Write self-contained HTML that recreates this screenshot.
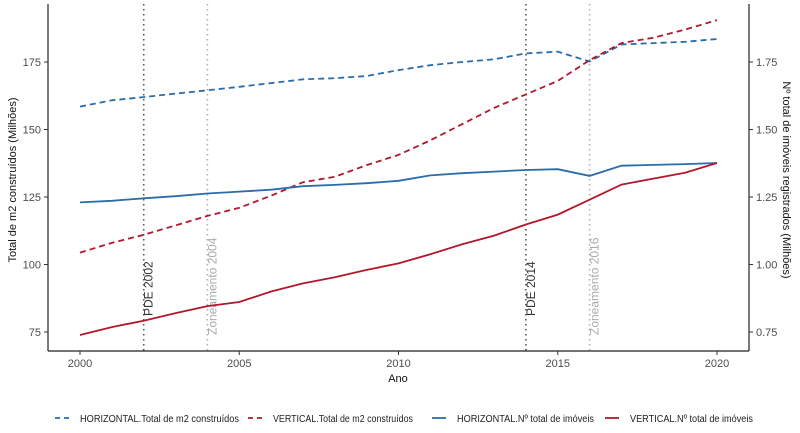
<!DOCTYPE html>
<html><head><meta charset="utf-8"><style>
body{margin:0;background:#fff;}
svg{display:block;font-family:"Liberation Sans",sans-serif;}
</style></head><body>
<svg id="chart" width="800" height="433">
<g id="axes"></g><g id="marks"></g><g id="legend"></g>
</svg>
<script>
const years=[2000,2001,2002,2003,2004,2005,2006,2007,2008,2009,2010,2011,2012,2013,2014,2015,2016,2017,2018,2019,2020];
const horizM2=[158.5,160.8,162,163.3,164.5,165.8,167.2,168.6,169,169.8,172,173.8,175,176,178.2,178.8,175.2,181.5,182,182.5,183.5];
const vertM2=[104.4,108,111,114.5,118,121,125.5,130.5,132.5,136.8,140.6,146,152,158,163,168,175.7,182,184,187,190.5];
const horizN=[1.23,1.236,1.245,1.253,1.263,1.27,1.277,1.29,1.295,1.301,1.31,1.33,1.338,1.344,1.35,1.353,1.328,1.366,1.369,1.372,1.376];
const vertN=[0.739,0.768,0.792,0.82,0.846,0.861,0.9,0.93,0.953,0.98,1.004,1.038,1.075,1.107,1.148,1.185,1.24,1.296,1.318,1.34,1.376];
const xTicks=[2000,2005,2010,2015,2020];
const yTicks=[75,100,125,150,175];
const y2Ticks=[0.75,1.00,1.25,1.50,1.75];
const events=[{year:2002,label:"PDE 2002",dark:true},{year:2004,label:"Zoneamento 2004",dark:false},{year:2014,label:"PDE 2014",dark:true},{year:2016,label:"Zoneamento 2016",dark:false}];
const BLUE="#2a6cac",RED="#b2182b";
const NS="http://www.w3.org/2000/svg";
const x=v=>80+(v-2000)*31.85;
const y=v=>62+(175-v)*2.7;
const y2=v=>y(v*100);
function mk(tag,at,parent,text){const e=document.createElementNS(NS,tag);for(const k in at)e.setAttribute(k,at[k]);if(text!==undefined)e.textContent=text;parent.appendChild(e);return e;}
const ax=document.getElementById('axes'),mg=document.getElementById('marks'),lg=document.getElementById('legend');
events.forEach(ev=>{
 const c=ev.dark?"#555":"#b0b0b0";
 const l=mk('line',{x1:x(ev.year),x2:x(ev.year),y1:4,y2:351,stroke:c,'stroke-width':1.6,'stroke-dasharray':'1.5 3.5'},mg);
 
 
 const by=ev.dark?316:335;
 const t=mk('text',{x:x(ev.year)+9,y:by,transform:`rotate(-90 ${x(ev.year)+9} ${by})`,'font-size':12,fill:ev.dark?"#333":"#aaa"},mg,ev.label);
 
 
});
function line(vals,fy,col,dash,name){
 const d=vals.map((v,i)=>(i?'L':'M')+x(years[i]).toFixed(1)+','+fy(v).toFixed(1)).join('');
 const p=mk('path',{d:d,fill:'none',stroke:col,'stroke-width':1.8,'stroke-dasharray':dash?'6 4':'none'},mg);
 
 
}
line(horizM2,y,BLUE,true,'series-horizontal-m2');
line(vertM2,y,RED,true,'series-vertical-m2');
line(horizN,y2,BLUE,false,'series-horizontal-imoveis');
line(vertN,y2,RED,false,'series-vertical-imoveis');
mk('line',{x1:48,x2:48,y1:4,y2:351,stroke:'#222','stroke-width':1.2},ax);
mk('line',{x1:48,x2:749,y1:351,y2:351,stroke:'#222','stroke-width':1.2},ax);
mk('line',{x1:749,x2:749,y1:4,y2:351,stroke:'#222','stroke-width':1.2},ax);
xTicks.forEach(t=>{mk('line',{x1:x(t),x2:x(t),y1:351,y2:355,stroke:'#333'},ax);
 const e=mk('text',{x:x(t),y:367,'font-size':11,fill:'#4d4d4d','text-anchor':'middle'},ax,t);
 
 });
yTicks.forEach(t=>{mk('line',{x1:44,x2:48,y1:y(t),y2:y(t),stroke:'#333'},ax);
 const e=mk('text',{x:41,y:y(t)+4,'font-size':11,fill:'#4d4d4d','text-anchor':'end'},ax,t);
 
 });
y2Ticks.forEach(t=>{mk('line',{x1:749,x2:753,y1:y2(t),y2:y2(t),stroke:'#333'},ax);
 const e=mk('text',{x:756,y:y2(t)+4,'font-size':11,fill:'#4d4d4d'},ax,t.toFixed(2));
 
 });
let e=mk('text',{x:398,y:382,'font-size':11,fill:'#111','text-anchor':'middle'},ax,'Ano');

e=mk('text',{x:16,y:180,'font-size':11,fill:'#111','text-anchor':'middle',transform:'rotate(-90 16 180)'},ax,'Total de m2 construídos (Milhões)');

e=mk('text',{x:783,y:180,'font-size':11,fill:'#111','text-anchor':'middle',transform:'rotate(90 783 180)'},ax,'Nº total de imóveis registrados (Milhões)');

const leg=[[55,BLUE,true,'HORIZONTAL.Total de m2 construídos',159],[248,RED,true,'VERTICAL.Total de m2 construídos',140],[432,BLUE,false,'HORIZONTAL.Nº total de imóveis',137],[605,RED,false,'VERTICAL.Nº total de imóveis',123]];
leg.forEach(([lx,c,d,t,w])=>{
 const g=mk('g',{},lg);
 
 
 mk('line',{x1:lx,x2:lx+14,y1:418,y2:418,stroke:c,'stroke-width':1.8,'stroke-dasharray':d?'5 4':'none'},g);
 mk('text',{x:lx+25,y:422,'font-size':10,fill:'#222',textLength:w,lengthAdjust:'spacingAndGlyphs'},g,t);
});
</script>
</body></html>
